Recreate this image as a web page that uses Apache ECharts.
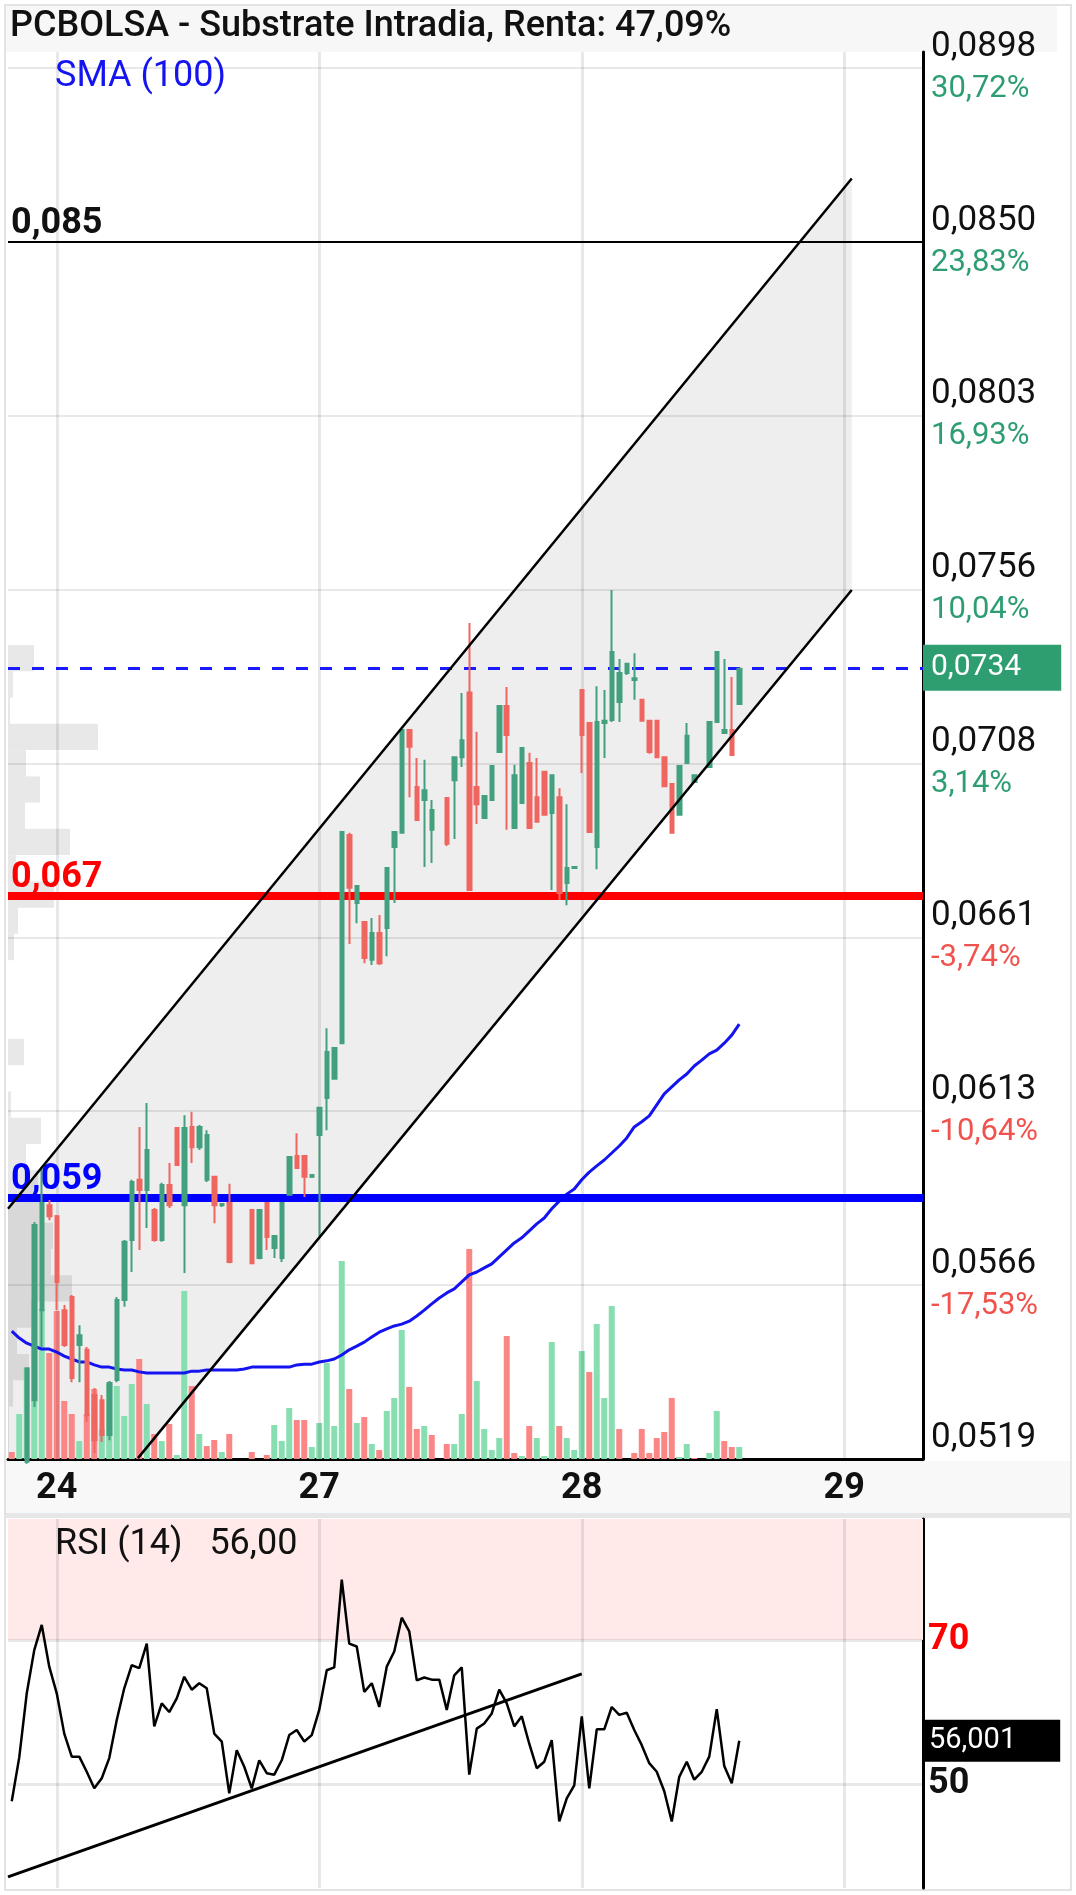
<!DOCTYPE html>
<html>
<head>
<meta charset="utf-8">
<title>PCBOLSA - Substrate Intradia</title>
<script src="https://cdn.jsdelivr.net/npm/echarts@6.0.0/dist/echarts.min.js"></script>
<style>
  html, body { margin: 0; padding: 0; background: #fff; }
  #chart { width: 1076px; height: 1895px; }
</style>
</head>
<body>
<div id="chart"></div>
<script>
// price axis: ticks every priceStep starting at priceBase
const priceBase = 0.051877;
const priceStep = 0.004735;
const priceLabels = ['0,0519', '0,0566', '0,0613', '0,0661', '0,0708', '0,0756', '0,0803', '0,0850', '0,0898'];
const pctLabels = ['', '-17,53%', '-10,64%', '-3,74%', '3,14%', '10,04%', '16,93%', '23,83%', '30,72%'];

// sessions shown: tail of 23, full 24/27/28, head of 29
const dayLabels = ['23', '24', '27', '28', '29'];

// 15 min candles [open, close, low, high]
const candles = [
  [0.05160, 0.05150, 0.05140, 0.05170], [0.05150, 0.05180, 0.05140, 0.05185], [0.05180, 0.05435, 0.05175, 0.05436],
  [0.05348, 0.05825, 0.05329, 0.05833], [0.05593, 0.05885, 0.05493, 0.05983], [0.05879, 0.05849, 0.05838, 0.05893],
  [0.05849, 0.05670, 0.05593, 0.05852], [0.05593, 0.05498, 0.05493, 0.05607], [0.05629, 0.05408, 0.05397, 0.05634],
  [0.05498, 0.05525, 0.05397, 0.05552], [0.05485, 0.05307, 0.05289, 0.05493], [0.05362, 0.05239, 0.05204, 0.05381],
  [0.05348, 0.05253, 0.05234, 0.05362], [0.05253, 0.05395, 0.05239, 0.05400], [0.05403, 0.05621, 0.05397, 0.05629],
  [0.05621, 0.05779, 0.05602, 0.05784], [0.05784, 0.05942, 0.05697, 0.05948], [0.05948, 0.05920, 0.05757, 0.06092],
  [0.05920, 0.06029, 0.05817, 0.06157], [0.05866, 0.05784, 0.05779, 0.05871], [0.05784, 0.05934, 0.05779, 0.05940],
  [0.05934, 0.05879, 0.05871, 0.05994], [0.06089, 0.05988, 0.05988, 0.06092], [0.05879, 0.06089, 0.05694, 0.06124],
  [0.06092, 0.06037, 0.05994, 0.06133], [0.06037, 0.06092, 0.06029, 0.06097], [0.05948, 0.06070, 0.05942, 0.06083],
  [0.05956, 0.05879, 0.05830, 0.05956], [0.05879, 0.05882, 0.05874, 0.05885], [0.05885, 0.05724, 0.05721, 0.05937],
  null, null,
  [0.05866, 0.05721, 0.05721, 0.05866], [0.05735, 0.05866, 0.05732, 0.05866], [0.05885, 0.05792, 0.05757, 0.05885],
  [0.05762, 0.05795, 0.05735, 0.05795], [0.05735, 0.05885, 0.05724, 0.05885], [0.05907, 0.06010, 0.05907, 0.06013],
  [0.06013, 0.05980, 0.05980, 0.06075], [0.06013, 0.05956, 0.05901, 0.06013], [0.05956, 0.05961, 0.05956, 0.05961],
  [0.06070, 0.06144, 0.05795, 0.06144], [0.06171, 0.06296, 0.06083, 0.06361], [0.06223, 0.06307, 0.06223, 0.06307],
  [0.06320, 0.06895, 0.06320, 0.06895], [0.06887, 0.06743, 0.06590, 0.06893], [0.06702, 0.06748, 0.06647, 0.06748],
  [0.06650, 0.06552, 0.06538, 0.06650], [0.06547, 0.06620, 0.06533, 0.06661], [0.06620, 0.06538, 0.06533, 0.06669],
  [0.06634, 0.06797, 0.06557, 0.06797], [0.06854, 0.06895, 0.06702, 0.06895], [0.06893, 0.07173, 0.06893, 0.07173],
  [0.07173, 0.07127, 0.06990, 0.07173], [0.07018, 0.06928, 0.06928, 0.07097], [0.06982, 0.07009, 0.06800, 0.07092],
  [0.06901, 0.06955, 0.06811, 0.06982], null,
  [0.06988, 0.06863, 0.06857, 0.06990], [0.07036, 0.07099, 0.06876, 0.07099], [0.07099, 0.07145, 0.07072, 0.07274],
  [0.07275, 0.06737, 0.06737, 0.07464], [0.07018, 0.06971, 0.06917, 0.07168], [0.06933, 0.06993, 0.06933, 0.06993],
  [0.06982, 0.07075, 0.06982, 0.07075], [0.07113, 0.07238, 0.07113, 0.07238], [0.07238, 0.07159, 0.06901, 0.07290],
  [0.06906, 0.07050, 0.06906, 0.07078], [0.06974, 0.07124, 0.06974, 0.07124], [0.07083, 0.06906, 0.06906, 0.07111],
  [0.06990, 0.06923, 0.06923, 0.07097], [0.07059, 0.06942, 0.06942, 0.07059], [0.06947, 0.07050, 0.06737, 0.07050],
  [0.06990, 0.06729, 0.06710, 0.07014], [0.06756, 0.06797, 0.06696, 0.06971], [0.06797, 0.06800, 0.06795, 0.06802],
  [0.07282, 0.07159, 0.07056, 0.07282], [0.07192, 0.06895, 0.06895, 0.07195], [0.06854, 0.07195, 0.06794, 0.07292],
  [0.07192, 0.07198, 0.07097, 0.07282], [0.07200, 0.07385, 0.07195, 0.07554], [0.07249, 0.07328, 0.07195, 0.07366],
  [0.07328, 0.07353, 0.07323, 0.07353], [0.07309, 0.07314, 0.07255, 0.07382], [0.07255, 0.07198, 0.07198, 0.07255],
  [0.07198, 0.07113, 0.07108, 0.07198], [0.07198, 0.07099, 0.07099, 0.07198], [0.07099, 0.07020, 0.07020, 0.07099],
  [0.07026, 0.06893, 0.06893, 0.07026], [0.06942, 0.07075, 0.06942, 0.07075], [0.07083, 0.07157, 0.07083, 0.07192],
  [0.07031, 0.07050, 0.07031, 0.07050], null,
  [0.07072, 0.07195, 0.07072, 0.07195], [0.07195, 0.07385, 0.07195, 0.07385], [0.07165, 0.07173, 0.07165, 0.07366],
  [0.07173, 0.07105, 0.07105, 0.07317], [0.07244, 0.07340, 0.07244, 0.07340]
];

const volumes = [
  7, 45, 91, 160, 150, 106, 148, 58, 45, 18,
  45, 70, 30, 75, 73, 43, 75, 100, 55, 25,
  18, 35, 4, 168, 73, 25, 13, 19, 7, 25,
  0, 0, 7, 0, 4, 34, 18, 51, 39, 39,
  12, 36, 96, 33, 198, 70, 36, 42, 15, 9,
  48, 61, 129, 72, 30, 33, 24, 0, 15, 15,
  45, 210, 78, 30, 9, 21, 123, 6, 3, 33,
  21, 3, 117, 33, 21, 9, 108, 87, 135, 61,
  153, 30, 0, 6, 30, 6, 21, 27, 61, 2,
  15, 1, 0, 6, 48, 18, 12, 12
];

const sma100 = [
  0.05536, 0.05517, 0.05503, 0.05495, 0.05487, 0.05487, 0.05479, 0.05468, 0.05460, 0.05452,
  0.05452, 0.05444, 0.05438, 0.05438, 0.05433, 0.05430, 0.05430, 0.05425, 0.05422, 0.05422,
  0.05422, 0.05422, 0.05422, 0.05422, 0.05427, 0.05427, 0.05430, 0.05430, 0.05430, 0.05430,
  0.05430, 0.05433, 0.05438, 0.05438, 0.05438, 0.05438, 0.05438, 0.05438, 0.05444, 0.05446,
  0.05446, 0.05452, 0.05455, 0.05460, 0.05471, 0.05485, 0.05495, 0.05506, 0.05520, 0.05533,
  0.05542, 0.05550, 0.05555, 0.05563, 0.05577, 0.05593, 0.05610, 0.05626, 0.05640, 0.05651,
  0.05670, 0.05689, 0.05697, 0.05708, 0.05719, 0.05738, 0.05757, 0.05776, 0.05790, 0.05809,
  0.05828, 0.05844, 0.05869, 0.05890, 0.05909, 0.05923, 0.05948, 0.05969, 0.05986, 0.06002,
  0.06021, 0.06040, 0.06062, 0.06092, 0.06106, 0.06122, 0.06152, 0.06182, 0.06201, 0.06220,
  0.06236, 0.06258, 0.06274, 0.06291, 0.06301, 0.06320, 0.06342, 0.06372
];

const rsi14 = [
  47.6, 53.7, 62.6, 68.6, 72.1, 66.3, 62.6, 57.0, 53.8, 53.8,
  51.7, 49.4, 50.8, 53.6, 58.9, 63.3, 66.5, 66.1, 69.5, 58.0,
  61.2, 60.0, 61.9, 64.9, 63.1, 64.0, 63.3, 57.0, 55.9, 48.7,
  54.7, 52.4, 49.4, 53.3, 51.5, 51.3, 53.3, 56.8, 57.5, 55.9,
  56.8, 60.3, 65.8, 66.2, 78.4, 69.5, 69.1, 62.8, 64.0, 60.7,
  66.3, 68.4, 73.1, 71.2, 64.4, 64.8, 64.5, 64.5, 60.3, 65.1,
  66.2, 51.3, 57.7, 58.4, 59.8, 63.1, 61.2, 58.0, 59.4, 55.6,
  52.2, 53.1, 56.1, 44.8, 48.0, 49.8, 59.4, 49.4, 57.6, 57.6,
  60.7, 59.6, 59.9, 57.5, 55.4, 52.9, 51.7, 49.0, 44.8, 51.0,
  53.1, 50.6, 51.7, 53.8, 60.4, 52.5, 50.1, 56.001
];

// horizontal levels drawn on the chart
const levelValues = [0.085, 0.0672, 0.059];
const levelLabels = ['0,085', '0,067', '0,059'];

// rising channel [bar index, price]
const channelUpper = [[-0.5, 0.05869], [112, 0.08675]];
const channelLower = [[16.83, 0.05190], [112, 0.07554]];

// rsi support line [bar index, rsi]
const rsiTrend = [[-0.5, 37.1], [76, 65.3]];
const rsiMin = 35.56, rsiMax = 86.81;
const rsiLevels = [70, 50];

// volume by price, bins from the bottom of the chart
const profileBase = 0.051877;
const profileStep = 0.000715;
const profileVol = [1, 1, 5, 21, 9, 25, 64, 43, 45, 35, 30, 18, 33, 3, 0, 16, 0, 0, 0, 6, 10, 46, 8, 62, 17, 32, 18, 90, 2, 5, 26];

// ---- derived ----
const times = [];
for (let m = 540; m <= 1050; m += 15) {
  times.push(String(Math.floor(m / 60)).padStart(2, '0') + ':' + String(m % 60).padStart(2, '0'));
}
const categories = [];
times.slice(29).forEach(t => categories.push(dayLabels[0] + ' ' + t));
dayLabels.slice(1, 4).forEach(d => times.forEach(t => categories.push(d + ' ' + t)));
times.slice(0, 11).forEach(t => categories.push(dayLabels[4] + ' ' + t));
const dayStarts = categories.map((c, i) => c.endsWith('09:00') ? i : -1).filter(i => i >= 0);
const lastIdx = categories.length - 0.5;

const toV = p => (p - priceBase) / priceStep;
const fmt = (x, d) => x.toFixed(d).replace('.', ',');

const candleData = candles.map(c => c ? c.map(toV) : ['-', '-', '-', '-']);
let prevClose = null;
const volData = volumes.map((v, i) => {
  const c = candles[i];
  let up = false;
  if (c) {
    up = prevClose !== null && c[1] >= prevClose;
    prevClose = c[1];
  }
  return { value: v, itemStyle: { color: up ? '#87dfb1' : '#fb8686' } };
});
const lastClose = candles[candles.length - 1][1];
const lastRsi = rsi14[rsi14.length - 1];

const GREEN = '#43a07f', RED = '#ef6661';
const FONT = 'Roboto';
const gridLine = 'rgba(0,0,0,0.09)';

const levelLabel = (text, color) => ({
  show: true, position: 'insideStartTop', formatter: text, color: color,
  fontSize: 36, fontWeight: 'bold', lineHeight: 30, distance: 3, fontFamily: FONT
});

const chart = echarts.init(document.getElementById('chart'));
chart.setOption({
  animation: false,
  backgroundColor: '#fff',
  textStyle: { fontFamily: FONT },
  grid: [
    { left: 8, right: 153, top: 52, bottom: 436 },
    { left: 8, right: 153, top: 1519, bottom: 7 }
  ],
  xAxis: [
    {
      type: 'category', gridIndex: 0, data: categories, boundaryGap: true,
      axisLine: { lineStyle: { color: '#000', width: 3 } },
      axisTick: { show: false },
      splitLine: { show: false },
      axisLabel: {
        interval: (i, v) => v.endsWith('09:00'),
        formatter: v => v.split(' ')[0],
        color: '#111', fontSize: 36, fontWeight: 'bold', margin: 12, fontFamily: FONT
      }
    },
    { type: 'value', gridIndex: 0, min: -0.5, max: lastIdx, show: false },
    { type: 'value', gridIndex: 0, min: 0, max: 915, show: false },
    { type: 'value', gridIndex: 1, min: -0.5, max: lastIdx, show: false }
  ],
  yAxis: [
    {
      type: 'value', gridIndex: 0, position: 'right', min: 0, max: 8.092, interval: 1,
      axisLine: { show: true, onZero: false, lineStyle: { color: '#000', width: 3 } },
      axisTick: { show: false },
      splitLine: { show: true, showMaxLine: false, lineStyle: { color: gridLine, width: 2 } },
      axisLabel: {
        margin: 8, showMaxLabel: false,
        formatter: v => {
          const k = Math.round(v);
          if (Math.abs(v - k) > 1e-6 || !priceLabels[k]) return '';
          const pct = pctLabels[k];
          const tag = pct.startsWith('-') ? 'r' : 'g';
          return '{p|' + priceLabels[k] + '}\n{' + tag + '|' + (pct || ' ') + '}';
        },
        rich: {
          p: { fontSize: 35, color: '#111', lineHeight: 42, fontFamily: FONT },
          g: { fontSize: 31, color: '#2e9e72', lineHeight: 42, fontFamily: FONT },
          r: { fontSize: 31, color: '#f0524e', lineHeight: 42, fontFamily: FONT }
        }
      }
    },
    { type: 'value', gridIndex: 0, min: 0, max: 1407, show: false },
    {
      type: 'value', gridIndex: 1, position: 'right', min: rsiMin, max: rsiMax,
      axisLine: { show: true, onZero: false, lineStyle: { color: '#000', width: 3 } },
      axisTick: { show: false }, axisLabel: { show: false }, splitLine: { show: false }
    }
  ],
  graphic: [
    { type: 'rect', z: -5, shape: { x: 6, y: 6, width: 1051, height: 46 }, style: { fill: '#f7f7f7' } },
    { type: 'rect', z: -5, shape: { x: 6, y: 1461, width: 1064, height: 52 }, style: { fill: '#f8f8f8' } },
    { type: 'rect', z: -5, shape: { x: 6, y: 1513, width: 1064, height: 5 }, style: { fill: '#e6e6e6' } },
    { type: 'rect', z: -5, shape: { x: 5, y: 5, width: 1066, height: 1885 }, style: { fill: 'none', stroke: '#e3e3e3', lineWidth: 2 } },
    { type: 'text', z: 20, left: 10, top: 9, style: { text: 'PCBOLSA - Substrate Intradia, Renta: 47,09%', fontSize: 36, fontWeight: 500, fontFamily: FONT, fill: '#111' } },
    { type: 'text', z: 20, left: 55, top: 59, style: { text: 'SMA (100)', fontSize: 36, fontFamily: FONT, fill: '#1414f0' } },
    { type: 'text', z: 20, left: 55, top: 1527, style: { text: 'RSI (14)   ' + fmt(lastRsi, 2), fontSize: 36, fontFamily: FONT, fill: '#111' } }
  ],
  series: [
    {
      name: 'channel', type: 'custom', xAxisIndex: 1, yAxisIndex: 0, z: 1, silent: true,
      data: [0],
      renderItem: (params, api) => {
        const corners = [channelUpper[0], channelUpper[1], channelLower[1], channelLower[0], [channelUpper[0][0], priceBase]];
        const pts = corners.map(p => api.coord([p[0], toV(p[1])]));
        return { type: 'polygon', shape: { points: pts }, style: { fill: 'rgba(0,0,0,0.065)' } };
      }
    },
    {
      name: 'profile', type: 'custom', xAxisIndex: 2, yAxisIndex: 0, z: 2, silent: true,
      data: profileVol.map((v, k) => [v, k]),
      renderItem: (params, api) => {
        const vol = api.value(0), k = api.value(1);
        const top = api.coord([0, toV(profileBase + (k + 1) * profileStep)]);
        const bot = api.coord([vol, toV(profileBase + k * profileStep)]);
        return { type: 'rect', shape: { x: top[0], y: top[1], width: bot[0] - top[0], height: bot[1] - top[1] }, style: { fill: 'rgba(0,0,0,0.09)' } };
      }
    },
    {
      name: 'days', type: 'line', xAxisIndex: 1, yAxisIndex: 0, data: [], z: 2,
      markLine: {
        silent: true, symbol: ['none', 'none'], label: { show: false },
        lineStyle: { color: gridLine, width: 3, type: 'solid' },
        data: dayStarts.map(i => ({ xAxis: i }))
      }
    },
    {
      name: 'volume', type: 'bar', xAxisIndex: 0, yAxisIndex: 1, barWidth: 6, z: 3, silent: true,
      data: volData
    },
    {
      name: 'SMA (100)', type: 'line', xAxisIndex: 1, yAxisIndex: 0, z: 4, silent: true,
      data: sma100.map((s, i) => [i, toV(s)]), showSymbol: false, symbol: 'none',
      lineStyle: { color: '#1414f0', width: 3 }
    },
    {
      name: 'PCBOLSA', type: 'candlestick', xAxisIndex: 0, yAxisIndex: 0, z: 5, silent: true,
      data: candleData, barWidth: 4,
      itemStyle: { color: GREEN, color0: RED, borderColor: GREEN, borderColor0: RED, borderWidth: 2 }
    },
    {
      name: 'levels', type: 'line', xAxisIndex: 1, yAxisIndex: 0, data: [], z: 6,
      markLine: {
        silent: true, symbol: ['none', 'none'],
        data: [
          { yAxis: toV(levelValues[0]), lineStyle: { color: '#000', width: 2, type: 'solid' }, label: levelLabel(levelLabels[0], '#111') },
          { yAxis: toV(levelValues[1]), lineStyle: { color: '#ff0000', width: 8, type: 'solid' }, label: levelLabel(levelLabels[1], '#ff0000') },
          { yAxis: toV(levelValues[2]), lineStyle: { color: '#0000ff', width: 8, type: 'solid' }, label: levelLabel(levelLabels[2], '#0000ff') },
          {
            yAxis: toV(lastClose), lineStyle: { color: '#1a1aff', width: 3, type: [12, 12] },
            label: {
              show: true, position: 'end', formatter: fmt(lastClose, 4), color: '#fff', fontSize: 30,
              backgroundColor: '#2e9e70', padding: [9, 40, 7, 8], distance: 0, fontFamily: FONT
            }
          }
        ]
      }
    },
    {
      name: 'channel top', type: 'line', xAxisIndex: 1, yAxisIndex: 0, z: 7, silent: true,
      data: channelUpper.map(p => [p[0], toV(p[1])]), symbol: 'none', lineStyle: { color: '#000', width: 2.5 }
    },
    {
      name: 'channel bottom', type: 'line', xAxisIndex: 1, yAxisIndex: 0, z: 7, silent: true,
      data: channelLower.map(p => [p[0], toV(p[1])]), symbol: 'none', lineStyle: { color: '#000', width: 2.5 }
    },
    {
      name: 'rsi grid', type: 'line', xAxisIndex: 3, yAxisIndex: 2, data: [], z: 1,
      markArea: {
        silent: true, itemStyle: { color: '#ffe9e9' },
        data: [[{ yAxis: rsiLevels[0] }, { yAxis: rsiMax }]]
      },
      markLine: {
        silent: true, symbol: ['none', 'none'],
        lineStyle: { color: gridLine, width: 3, type: 'solid' },
        data: [
          ...dayStarts.map(i => ({ xAxis: i, label: { show: false } })),
          { yAxis: rsiLevels[0], label: { show: true, position: 'end', formatter: String(rsiLevels[0]), color: '#ff0000', fontSize: 36, fontWeight: 'bold', fontFamily: FONT } },
          { yAxis: rsiLevels[1], label: { show: true, position: 'end', formatter: String(rsiLevels[1]), color: '#111', fontSize: 36, fontWeight: 'bold', fontFamily: FONT } }
        ]
      }
    },
    {
      name: 'RSI (14)', type: 'line', xAxisIndex: 3, yAxisIndex: 2, z: 4, silent: true,
      data: rsi14.map((r, i) => [i, r]), symbol: 'none', lineStyle: { color: '#000', width: 2.5 },
      markLine: {
        silent: true, symbol: ['none', 'none'],
        lineStyle: { color: 'rgba(0,0,0,0)', width: 1 },
        data: [{
          yAxis: lastRsi,
          label: {
            show: true, position: 'end', formatter: fmt(lastRsi, 3), color: '#fff', fontSize: 29,
            backgroundColor: '#000', padding: [7, 44, 6, 6], distance: 0, fontFamily: FONT
          }
        }]
      }
    },
    {
      name: 'rsi trend', type: 'line', xAxisIndex: 3, yAxisIndex: 2, z: 5, silent: true,
      data: rsiTrend, symbol: 'none', lineStyle: { color: '#000', width: 3 }
    }
  ]
});
</script>
</body>
</html>
